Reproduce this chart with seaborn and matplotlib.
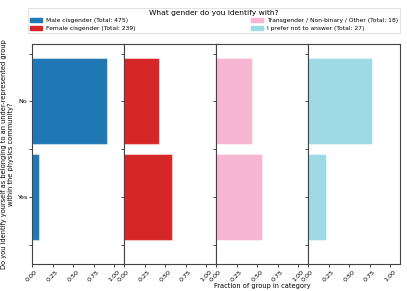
import matplotlib
matplotlib.use("Agg")
import matplotlib.pyplot as plt
import matplotlib.patches as mpatches
import seaborn as sns
import pandas as pd

answers = ["No", "Yes"]
genders = ["Male cisgender", "Female cisgender", "Transgender / Non-binary / Other", "I prefer not to answer"]
totals = [475, 239, 18, 27]
frac_male = [0.91, 0.09]
frac_female = [0.42, 0.58]
frac_trans = [0.44, 0.56]
frac_prefer = [0.78, 0.22]
colors = ["#1f77b4", "#d62728", "#f7b6d2", "#9edae5"]
xticks = [0.0, 0.25, 0.5, 0.75, 1.0]
legend_title = "What gender do you identify with?"
ylabel = "Do you identify yourself as belonging to an under-represented group\nwithin the physics community?"
xlabel = "Fraction of group in category"

fracs = [frac_male, frac_female, frac_trans, frac_prefer]

W, H = 407, 291
fig, axes = plt.subplots(1, 4, sharey=True, figsize=(W / 100, H / 100), dpi=100)
fig.subplots_adjust(left=32 / W, right=400 / W, top=1 - 44 / H, bottom=1 - 264 / H, wspace=0)

for i, ax in enumerate(axes):
    df = pd.DataFrame({"answer": answers, "frac": fracs[i]})
    sns.barplot(data=df, x="frac", y="answer", orient="h", color=colors[i], width=0.9,
                saturation=1, edgecolor=(1, 1, 1, 0.45), linewidth=0.8, ax=ax, err_kws={"linewidth": 0})
    ax.set_xlim(0, 1.12)
    ax.set_xticks(xticks)
    ax.set_xticklabels([f"{t:.2f}" for t in xticks], rotation=45, fontsize=4.6)
    ax.set_xlabel("")
    ax.set_ylabel("")
    ax.tick_params(axis="both", length=2, width=0.5, pad=1.5)
    for s in ax.spines.values():
        s.set_linewidth(0.8)
        s.set_color("#444444")

axes[0].set_ylim(1.7, -0.6)
axes[0].set_yticks([-0.5, 0, 0.5, 1, 1.5])
axes[0].set_yticklabels(["", "No", "", "Yes", ""], fontsize=4.6)
axes[0].set_ylabel(ylabel, fontsize=4.8, labelpad=2)
axes[2].set_xlabel(xlabel, fontsize=4.8, labelpad=0.5)

handles = [mpatches.Patch(color=c, label=f"{g} (Total: {t})") for g, t, c in zip(genders, totals, colors)]
leg = fig.legend(handles=handles, loc="lower left", ncol=2, mode="expand",
                 bbox_to_anchor=(28 / W, 1 - 33 / H, (400 - 28) / W, 30 / H),
                 title=legend_title, fontsize=4.3, title_fontsize=5.4,
                 borderaxespad=0, handlelength=2.0, handleheight=0.7, handletextpad=0.6,
                 labelspacing=0.4, borderpad=0.35, frameon=True, fancybox=False)
leg.get_frame().set_linewidth(0.5)
leg.get_frame().set_edgecolor("#cccccc")

fig.savefig("out.png", dpi=100)
